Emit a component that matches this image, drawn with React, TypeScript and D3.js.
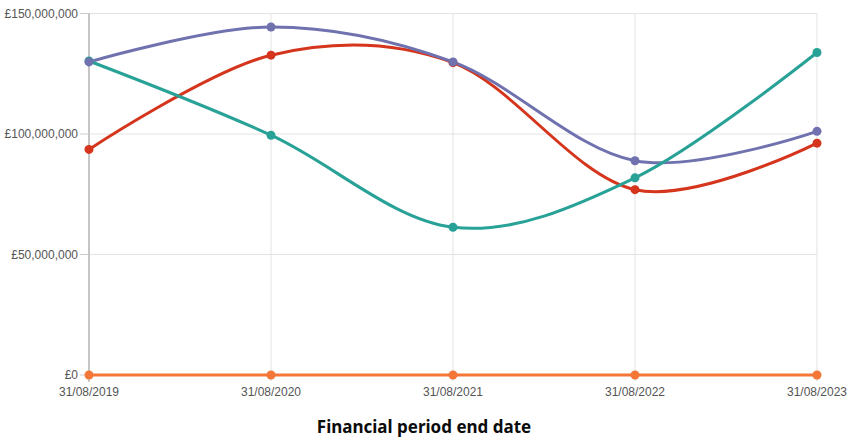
import React from "react";
import * as d3 from "d3";

const categories = ["31/08/2019", "31/08/2020", "31/08/2021", "31/08/2022", "31/08/2023"];
const purpleValues = [129900000, 144400000, 129900000, 88900000, 101100000];
const tealValues = [130300000, 99500000, 61300000, 81800000, 133800000];
const redValues = [93600000, 132700000, 129600000, 76900000, 96200000];
const orangeValues = [0, 0, 0, 0, 0];
const yTicks = [0, 50000000, 100000000, 150000000];
const xTitle = "Financial period end date";

const series = [
  { name: "orange", color: "#f47738", values: orangeValues },
  { name: "red", color: "#d4351c", values: redValues },
  { name: "purple", color: "#6f72af", values: purpleValues },
  { name: "teal", color: "#28a197", values: tealValues },
];
const circleOrder = ["teal", "red", "purple", "orange"];

export default function App() {
  const W = 851, H = 442;
  const left = 89, right = 817, top = 13.5, bottom = 375;
  const x = d3.scalePoint<string>().domain(categories).range([left, right]);
  const y = d3.scaleLinear().domain([0, 150000000]).range([bottom, top]);
  const line = d3
    .line<number>()
    .x((_, i) => x(categories[i]) as number)
    .y((d) => y(d))
    .curve(d3.curveCardinal);
  const fmt = (v: number) => "£" + d3.format(",")(v);
  const tickFont = "'Liberation Sans', Arial, sans-serif";

  return (
    <svg width={W} height={H} style={{ position: "absolute", left: 0, top: 0, background: "#fff" }}>
      {/* grid */}
      <g>
        {yTicks.map((t) => (
          <line key={"gy" + t} x1={left} x2={right} y1={y(t)} y2={y(t)} stroke="#e3e3e3" strokeWidth={1} />
        ))}
        {categories.map((c) => (
          <line key={"gx" + c} x1={x(c)} x2={x(c)} y1={top} y2={bottom} stroke="#e3e3e3" strokeWidth={1} />
        ))}
      </g>
      {/* y axis */}
      <g>
        <line x1={left} x2={left} y1={top} y2={bottom + 7} stroke="#999" strokeWidth={1} />
        {yTicks.map((t) => (
          <g key={"yt" + t}>
            <line x1={left - 9} x2={left} y1={y(t)} y2={y(t)} stroke="#ccc" strokeWidth={1} />
            <text x={left - 11} y={y(t)} dy="0.35em" textAnchor="end" fontFamily={tickFont} fontSize={12} fill="#555">
              {fmt(t)}
            </text>
          </g>
        ))}
      </g>
      {/* x axis labels */}
      <g>
        {categories.map((c) => (
          <g key={"xt" + c}>
            <line x1={x(c)} x2={x(c)} y1={bottom} y2={bottom + 6} stroke="#ccc" strokeWidth={1} />
            <text x={x(c)} y={bottom + 21} textAnchor="middle" fontFamily={tickFont} fontSize={12} fill="#555">
              {c}
            </text>
          </g>
        ))}
      </g>
      {/* lines */}
      <g>
        {series.map((s) => (
          <path key={"l" + s.name} d={line(s.values) || ""} fill="none" stroke={s.color} strokeWidth={3} />
        ))}
      </g>
      {/* circles */}
      <g>
        {circleOrder.map((n) => {
          const s = series.find((q) => q.name === n)!;
          return s.values.map((v, i) => (
            <circle key={n + i} cx={x(categories[i])} cy={y(v)} r={4.5} fill={s.color} />
          ));
        })}
      </g>
      <text
        x={(left + right) / 2 - 29}
        y={433}
        textAnchor="middle"
        fontFamily="'Noto Sans', 'Open Sans', Arial, sans-serif"
        fontWeight="bold"
        fontSize={17}
        fill="#0b0c0c"
      >
        {xTitle}
      </text>
    </svg>
  );
}
